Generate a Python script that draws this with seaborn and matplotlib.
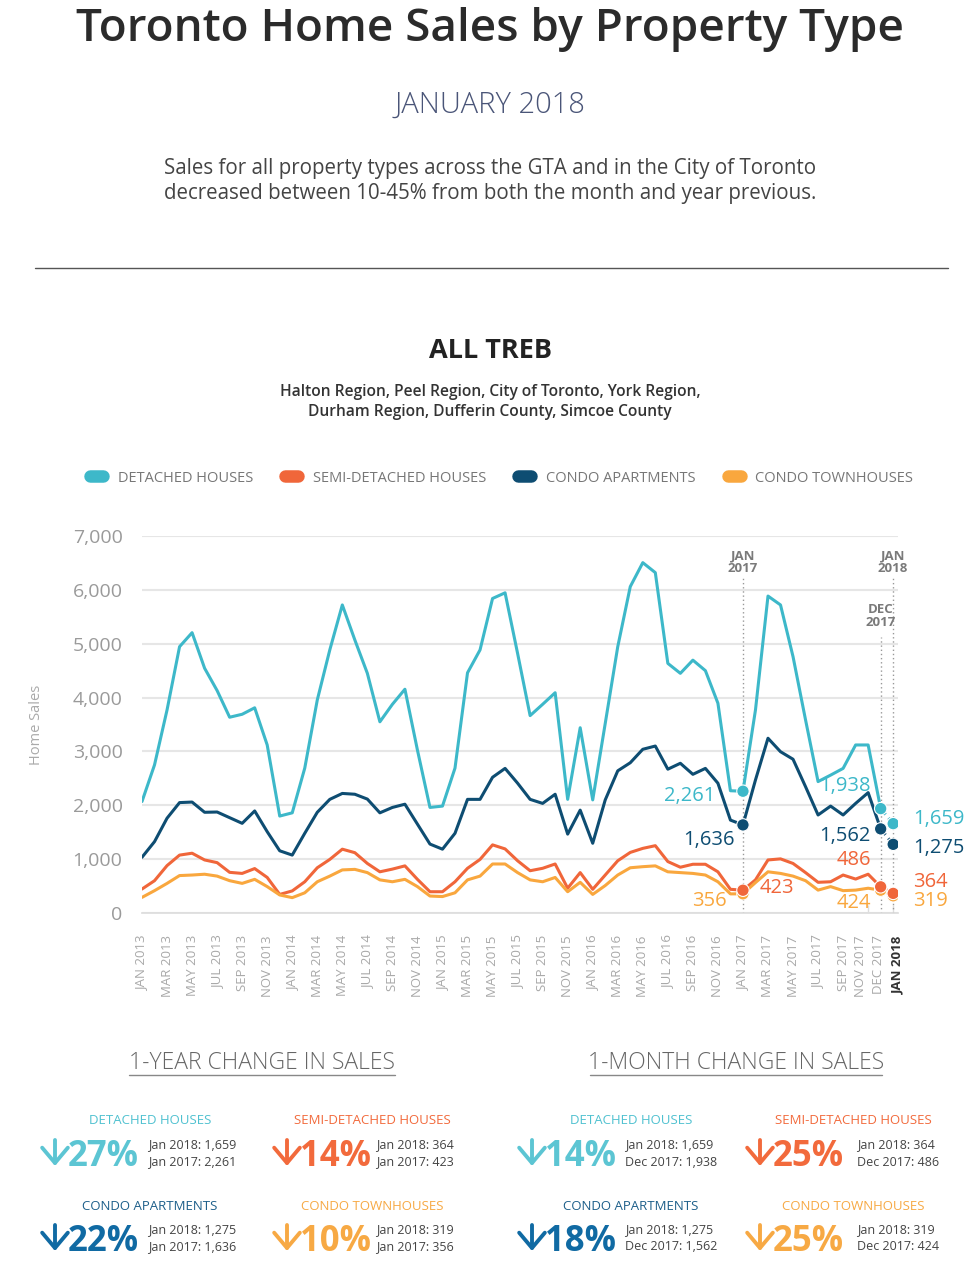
import matplotlib
matplotlib.use("Agg")
import matplotlib.pyplot as plt
from matplotlib.lines import Line2D
from matplotlib.patches import FancyArrowPatch
import numpy as np
import pandas as pd
import seaborn as sns

sns.set_theme(style="white")
plt.rcParams["font.family"] = ["Open Sans", "DejaVu Sans"]

# ---- data ----
MONTHS = pd.date_range("2013-01-01", periods=61, freq="MS")

DETACHED = [2070, 2750, 3770, 4945, 5205, 4545, 4130, 3635, 3690, 3810, 3120, 1800,
            1860, 2690, 3955, 4885, 5720, 5070, 4450, 3550, 3875, 4155, 3025, 1960,
            1985, 2690, 4460, 4885, 5840, 5945, 4820, 3665, 3875, 4090, 2110, 3440,
            2100, 3520, 4945, 6060, 6505, 6320, 4635, 4450, 4695, 4500, 3895, 2270,
            2261, 3770, 5885, 5720, 4760, 3585, 2440, 2560, 2685, 3120, 3120, 1938,
            1659]
SEMI = [445, 600, 880, 1075, 1110, 985, 935, 755, 735, 825, 660, 345,
        410, 580, 840, 995, 1185, 1120, 920, 765, 815, 875, 625, 395,
        395, 580, 830, 995, 1265, 1190, 970, 785, 830, 910, 460, 750,
        440, 705, 970, 1125, 1200, 1250, 955, 850, 905, 905, 765, 440,
        423, 615, 985, 1005, 920, 750, 570, 580, 705, 630, 720, 486,
        364]
CONDO_APT = [1035, 1325, 1760, 2050, 2060, 1870, 1875, 1770, 1665, 1895, 1510, 1155,
             1075, 1480, 1870, 2110, 2220, 2205, 2115, 1860, 1960, 2020, 1650, 1280,
             1185, 1480, 2110, 2110, 2520, 2685, 2410, 2110, 2035, 2205, 1465, 1910,
             1295, 2100, 2640, 2790, 3040, 3100, 2670, 2780, 2575, 2685, 2410, 1725,
             1636, 2470, 3245, 2995, 2855, 2345, 1820, 1985, 1820, 2035, 2235, 1562,
             1275]
TOWN = [290, 415, 550, 695, 705, 720, 685, 600, 550, 625, 490, 335,
        285, 375, 580, 685, 800, 810, 750, 615, 580, 625, 490, 315,
        305, 375, 615, 685, 910, 910, 750, 615, 580, 660, 395, 570,
        345, 510, 705, 840, 860, 875, 765, 750, 735, 705, 580, 355,
        356, 565, 765, 735, 685, 600, 425, 490, 415, 425, 460, 424,
        319]

SERIES = ["DETACHED HOUSES", "SEMI-DETACHED HOUSES", "CONDO APARTMENTS", "CONDO TOWNHOUSES"]
VALUES = [DETACHED, SEMI, CONDO_APT, TOWN]
LINE_COLORS = ["#3db8c9", "#f0663a", "#0e4d72", "#f9a73e"]
CARD_COLORS = ["#5cc5d3", "#f26a3c", "#106aa3", "#f7a944"]
LABEL_COLORS = ["#4fc1d0", "#f26a3c", "#1d5f8a", "#f7a944"]
PALETTE = dict(zip(SERIES, LINE_COLORS))

Y_TICKS = [0, 1000, 2000, 3000, 4000, 5000, 6000, 7000]
LABEL_IDX = list(range(0, 59, 2)) + [59, 60]
MARK_IDX = [48, 59, 60]          # Jan 2017, Dec 2017, Jan 2018
MARK_TOPS = [6220, 5125, 6220]
MARK_LABELS = ["JAN\n2017", "DEC\n2017", "JAN\n2018"]
MARK_LABEL_Y = [6520, 5515, 6520]

# annotation offsets (pixels) per series for each marked month: (dx, dy, ha)
ANNOT = {
    48: [(-28, -5, "right"), (17, 2, "left"), (-8, -15, "right"), (-16, -7, "right")],
    59: [(-10, 23, "right"), (-10, 27, "right"), (-10, -7, "right"), (-10, -13, "right")],
    60: [(20, 5, "left"), (20, 11, "left"), (20, -4, "left"), (20, -5, "left")],
}

W, H = 980, 1275


def fx(px):
    return px / W


def fy(py):
    return 1 - py / H


rows = []
for name, vals in zip(SERIES, VALUES):
    for i, v in enumerate(vals):
        rows.append({"idx": i, "month": MONTHS[i], "type": name, "sales": v})
df = pd.DataFrame(rows)

fig = plt.figure(figsize=(W / 100, H / 100), dpi=100)
fig.patch.set_facecolor("white")

# ---- header ----
fig.text(0.5, fy(30), "Toronto Home Sales by Property Type", ha="center", va="center",
         fontsize=33, weight="semibold", color="#2b2b2b")
fig.text(0.5, fy(105), "JANUARY 2018", ha="center", va="center",
         fontsize=21, weight="light", color="#4a5578")
fig.text(0.5, fy(181), "Sales for all property types across the GTA and in the City of Toronto\n"
         "decreased between 10-45% from both the month and year previous.",
         ha="center", va="center", fontsize=14.8, color="#444444", linespacing=1.3)
fig.add_artist(Line2D([fx(35), fx(948)], [fy(268), fy(268)], transform=fig.transFigure,
                      color="#555555", lw=1))
fig.text(0.5, fy(351), "ALL TREB", ha="center", va="center", fontsize=19.5,
         weight="bold", color="#222222")
fig.text(0.5, fy(402), "Halton Region, Peel Region, City of Toronto, York Region,\n"
         "Durham Region, Dufferin County, Simcoe County",
         ha="center", va="center", fontsize=11.2, weight="semibold", color="#333333",
         linespacing=1.3)

# ---- chart ----
ax = fig.add_axes([fx(142), fy(913), 756.2 / W, 377 / H])
main = df[df["idx"] <= 59]
tail = df[df["idx"] >= 59]
sns.lineplot(data=main, x="idx", y="sales", hue="type", hue_order=SERIES,
             palette=PALETTE, lw=2.2, ax=ax, legend=False)
sns.lineplot(data=tail, x="idx", y="sales", hue="type", hue_order=SERIES,
             palette=PALETTE, lw=2.2, ax=ax, legend=False, linestyle=(0, (2.5, 1.5)))

marks = df[df["idx"].isin(MARK_IDX)].copy()
marks["order"] = marks["type"].map({"CONDO TOWNHOUSES": 0, "SEMI-DETACHED HOUSES": 1,
                                    "CONDO APARTMENTS": 2, "DETACHED HOUSES": 3})
marks = marks.sort_values("order")
sns.scatterplot(data=marks, x="idx", y="sales", hue="type", palette=PALETTE, s=80,
                edgecolor="white", linewidth=0.8, ax=ax, legend=False, zorder=5)

ax.vlines(MARK_IDX, 0, MARK_TOPS, colors="#999999", linestyles=(0, (1, 2)), lw=1, zorder=1)
for xi, lab, ly in zip(MARK_IDX, MARK_LABELS, MARK_LABEL_Y):
    ax.text(xi, ly, lab, ha="center", va="center", fontsize=9.5, weight="bold",
            color="#7a7a7a", linespacing=0.95)

for xi in MARK_IDX:
    for k, vals in enumerate(VALUES):
        dx, dy, ha = ANNOT[xi][k]
        ax.annotate(f"{vals[xi]:,}", (xi, vals[xi]), xytext=(dx, dy),
                    textcoords="offset pixels", ha=ha, va="center", fontsize=14.5,
                    color=LINE_COLORS[k], weight="medium")

ax.set_xlim(0, 60.4)
ax.set_ylim(0, 7000)
ax.set_yticks(Y_TICKS)
ax.set_yticklabels([f"{v:,}" for v in Y_TICKS])
ax.yaxis.grid(True, color="#e6e6e6", lw=1.5)
ax.set_axisbelow(True)

# labels: the source spreads the last three month labels a little
label_pos = [float(i) for i in LABEL_IDX]
label_pos[-3:] = [57.35, 58.8, 60.4]
ax.set_xticks(label_pos)
ax.set_xticklabels([MONTHS[i].strftime("%b %Y").upper() for i in LABEL_IDX], rotation=90)
ax.set_xticks(range(0, 61, 2), minor=True)
xlabels = ax.get_xticklabels()
for lbl in xlabels[:-1]:
    lbl.set_color("#a8a8a8")
xlabels[-1].set_color("#333333")
xlabels[-1].set_weight("bold")
ax.tick_params(axis="x", which="major", length=0, labelsize=9.5, pad=16)
ax.tick_params(axis="x", which="minor", direction="in", length=6, width=1, color="#dddddd",
               bottom=True)
ax.tick_params(axis="y", length=0, labelsize=14, labelcolor="#9a9a9a", pad=14)
for s in ["top", "right", "left"]:
    ax.spines[s].set_visible(False)
ax.spines["bottom"].set_color("#dddddd")
ax.set_xlabel("")
ax.set_ylabel("Home Sales", fontsize=10.5, color="#aaaaaa")
ax.yaxis.set_label_coords(-0.13, 0.5)

handles = [Line2D([0], [0], color=c, lw=9, solid_capstyle="round") for c in LINE_COLORS]
fig.legend(handles, SERIES, loc="center", bbox_to_anchor=(0.512, fy(478)), ncol=4,
           frameon=False, handlelength=0.9, handletextpad=1.0, columnspacing=2.2,
           fontsize=10.5, labelcolor="#777777")

# ---- change panels ----
PANELS = [("1-YEAR CHANGE IN SALES", 262, 133, 48, "Jan 2017"),
          ("1-MONTH CHANGE IN SALES", 736, 146, 59, "Dec 2017")]
COLS = [[(45, 150, 148), (277, 372, 376)], [(522, 631, 625), (750, 853, 857)]]
ROWS = [(1121, 1166, 1145), (1207, 1251, 1230)]

for p, (title, cx, half, ref, ref_lbl) in enumerate(PANELS):
    fig.text(fx(cx), fy(1063), title, ha="center", va="center", fontsize=16.5,
             weight="light", color="#666666")
    fig.add_artist(Line2D([fx(cx - half), fx(cx + half)], [fy(1075), fy(1075)],
                          transform=fig.transFigure, color="#888888", lw=1))
    for k in range(4):
        r, c = divmod(k, 2)
        ax_left, lab_cx, det_x = COLS[p][c]
        lab_y, big_y, det_y = ROWS[r]
        now, before = VALUES[k][60], VALUES[k][ref]
        pct = round((before - now) / before * 100)
        fig.text(fx(lab_cx), fy(lab_y), SERIES[k], ha="center", va="center",
                 fontsize=9.5, color=LABEL_COLORS[k])
        fig.add_artist(FancyArrowPatch((fx(ax_left + 10), fy(big_y - 26)),
                                       (fx(ax_left + 10), fy(big_y)),
                                       transform=fig.transFigure,
                                       arrowstyle="->,head_length=0.5,head_width=0.42",
                                       mutation_scale=22, lw=2.8, color=CARD_COLORS[k],
                                       shrinkA=0, shrinkB=0, capstyle="round",
                                       joinstyle="round"))
        fig.text(fx(ax_left + 23), fy(big_y), f"{pct}%", ha="left", va="baseline",
                 fontsize=25, weight="bold", color=CARD_COLORS[k])
        fig.text(fx(det_x), fy(det_y), f"Jan 2018: {now:,}", ha="left", va="center",
                 fontsize=9, color="#444444")
        fig.text(fx(det_x), fy(det_y + 17), f"{ref_lbl}: {before:,}", ha="left",
                 va="center", fontsize=9, color="#444444")

fig.savefig("out.png", dpi=100)
